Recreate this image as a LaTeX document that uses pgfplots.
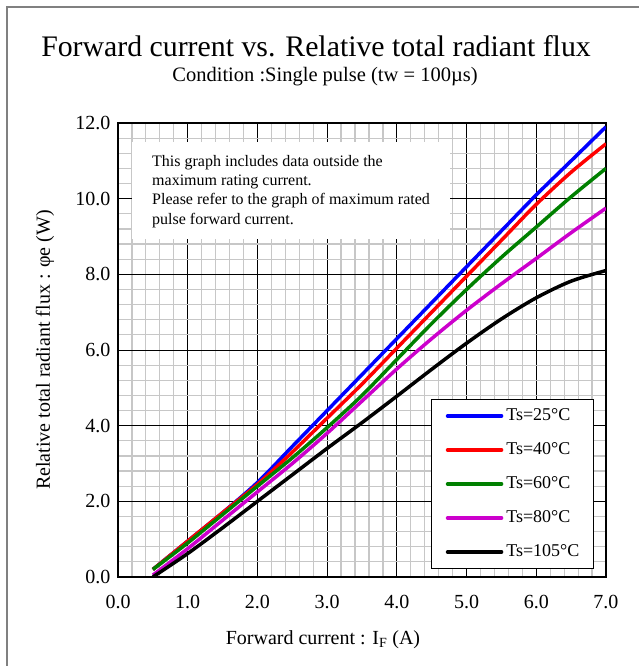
\documentclass[border=0pt]{standalone}
\usepackage{pgfplots}
\pgfplotsset{compat=1.18}
\usepackage{fontspec}
\setmainfont{Liberation Serif}

\definecolor{c25}{RGB}{0,0,255}
\definecolor{c40}{RGB}{255,0,0}
\definecolor{c60}{RGB}{0,128,0}
\definecolor{c80}{RGB}{204,0,204}
\definecolor{c105}{RGB}{0,0,0}

\begin{document}
\begin{tikzpicture}
\useasboundingbox (0pt,0pt) rectangle (639pt,-666pt);
% outer frame (only left and top visible)
\draw[gray, line width=2pt] (7pt,-666pt) -- (7pt,-7pt) -- (639pt,-7pt);

\node[font=\fontsize{29.8}{32}\selectfont, anchor=base] at (316pt,-57pt)
  {Forward current vs. Relative total radiant flux};
\node[font=\fontsize{20.5}{22}\selectfont, anchor=base] at (325pt,-82pt)
  {Condition :Single pulse (tw = 100µs)};

\begin{axis}[
  at={(118pt,-577pt)}, anchor=south west,
  scale only axis, width=488pt, height=454pt,
  xmin=0, xmax=7, ymin=0, ymax=12,
  xtick={0,1,...,7}, ytick={0,2,...,12},
  minor x tick num=4, minor y tick num=4,
  grid=both,
  major grid style={black, line width=0.8pt},
  minor grid style={black!22, line width=1.2pt},
  major tick length=0pt, minor tick length=0pt,
  axis line style={black, line width=1.2pt},
  tick label style={font=\fontsize{20}{22}\selectfont},
  xticklabel={\pgfmathprintnumber[fixed,fixed zerofill,precision=1,assume math mode=true]{\tick}},
  yticklabel={\pgfmathprintnumber[fixed,fixed zerofill,precision=1,assume math mode=true]{\tick}},
  xticklabel style={yshift=-15pt},
  yticklabel style={xshift=-4pt},
  xlabel={Forward current : I\textsubscript{F} (A)},
  ylabel={Relative total radiant flux : φe (W)},
  label style={font=\fontsize{20}{22}\selectfont},
  xlabel style={at={(axis description cs:0.42,0)}, anchor=base, yshift=-67pt},
  ylabel style={at={(axis description cs:0,0.5)}, anchor=base, yshift=68pt},
  legend style={at={(0.975,0.018)}, anchor=south east, draw=black, line width=0.8pt,
    fill=white, font=\fontsize{18}{20}\selectfont, inner xsep=14pt, inner ysep=8pt,
    row sep=17pt, column sep=3pt,
    nodes={inner sep=0pt, text height=13pt, text depth=4pt}},
  legend cell align=left,
  legend image code/.code={\draw[#1, line width=3.5pt, line cap=round] (0pt,0pt) -- (54pt,0pt);},
  every axis plot/.append style={line width=3.5pt, smooth},
]
% Ts=25C
\addplot[c25] coordinates {
(0.5,0.2) (1,0.95) (1.5,1.7) (2,2.5) (2.5,3.45) (3,4.4) (3.5,5.35) (4,6.3)
(4.5,7.25) (5,8.2) (5.5,9.15) (6,10.1) (6.5,11.0) (7,11.9)};
% Ts=40C
\addplot[c40] coordinates {
(0.5,0.2) (1,0.95) (1.5,1.7) (2,2.45) (2.5,3.3) (3,4.2) (3.5,5.1) (4,6.05)
(4.5,7.0) (5,7.95) (5.5,8.9) (6,9.85) (6.5,10.7) (7,11.45)};
% Ts=60C
\addplot[c60] coordinates {
(0.5,0.2) (1,0.9) (1.5,1.65) (2,2.4) (2.5,3.15) (3,3.95) (3.5,4.8) (4,5.75)
(4.5,6.7) (5,7.6) (5.5,8.45) (6,9.25) (6.5,10.05) (7,10.8)};
% Ts=80C
\addplot[c80] coordinates {
(0.5,0.05) (1,0.75) (1.5,1.5) (2,2.25) (2.5,3.0) (3,3.8) (3.5,4.65) (4,5.5)
(4.5,6.3) (5,7.05) (5.5,7.75) (6,8.42) (6.5,9.1) (7,9.75)};
% Ts=105C
\addplot[c105] coordinates {
(0.5,0.0) (1,0.62) (1.5,1.3) (2,2.0) (2.5,2.7) (3,3.4) (3.5,4.08) (4,4.78)
(4.5,5.49) (5,6.18) (5.5,6.82) (6,7.38) (6.5,7.82) (7,8.1)};
\legend{Ts=25°C, Ts=40°C, Ts=60°C, Ts=80°C, Ts=105°C}
\end{axis}

% note box
\fill[white] (132pt,-142pt) rectangle (450pt,-239pt);
\node[font=\fontsize{16}{19.3}\selectfont, align=left, anchor=base west, inner sep=0pt]
  at (152pt,-224pt) {This graph includes data outside the\\maximum rating current.\\Please refer to the graph of maximum rated\\pulse forward current.};
\end{tikzpicture}
\end{document}
